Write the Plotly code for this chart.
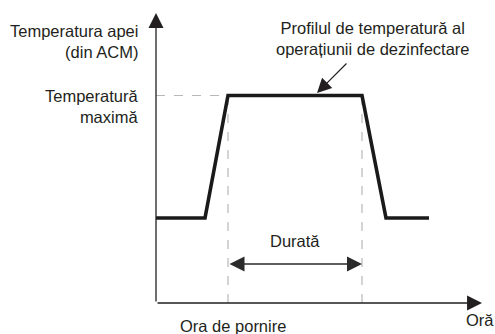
import plotly.graph_objects as go

# Profile of the disinfection operation (time units vs temperature units)
time_pts = [0, 1.96, 2.88, 8.24, 9.2, 10.92]
temp_pts = [3.4, 3.4, 8.3, 8.3, 3.4, 3.4]

x_max = 13.04
y_max = 11.6
start_time = time_pts[2]
end_time = time_pts[3]
max_temp = temp_pts[2]
duration_level = 1.56

lbl_y_axis = "Temperatura apei<br>(din ACM)"
lbl_max = "Temperatură<br>maximă"
lbl_profile = "Profilul de temperatură al<br>operațiunii de dezinfectare"
lbl_duration = "Durată"
lbl_start = "Ora de pornire"
lbl_x_axis = "Oră"

FONT = dict(family="Liberation Sans, Arial, sans-serif", size=16.5, color="#231f20")
DASH = dict(color="#b8b8b8", width=1.2, dash="dash")

fig = go.Figure()
fig.add_trace(go.Scatter(x=time_pts, y=temp_pts, mode="lines",
                         line=dict(color="#1a1a1a", width=3.6),
                         hoverinfo="skip", showlegend=False))

shapes = [
    dict(type="line", xref="x", yref="y", x0=start_time, x1=start_time, y0=0, y1=max_temp, line=DASH, layer="below"),
    dict(type="line", xref="x", yref="y", x0=end_time, x1=end_time, y0=0, y1=max_temp, line=DASH, layer="below"),
    dict(type="line", xref="x", yref="y", x0=0, x1=start_time, y0=max_temp, y1=max_temp, line=DASH, layer="below"),
]

annotations = [
    # axes with arrowheads
    dict(x=x_max, y=0, ax=0, ay=0, xref="x", yref="y", axref="x", ayref="y", text="",
         showarrow=True, arrowhead=2, arrowwidth=1.3, arrowsize=2.3, arrowcolor="#231f20", standoff=0),
    dict(x=0, y=y_max, ax=0, ay=0, xref="x", yref="y", axref="x", ayref="y", text="",
         showarrow=True, arrowhead=2, arrowwidth=1.3, arrowsize=2.3, arrowcolor="#231f20", standoff=0),
    # duration arrow
    dict(x=end_time, y=duration_level, ax=start_time, ay=duration_level, xref="x", yref="y",
         axref="x", ayref="y", text="", showarrow=True, arrowhead=2, startarrowhead=2,
         arrowside="end+start", arrowwidth=1.5, arrowsize=2, startarrowsize=2,
         arrowcolor="#2a2a2a", standoff=0, startstandoff=0),
    dict(x=(start_time + end_time) / 2, y=2.48, xref="x", yref="y", text=lbl_duration,
         showarrow=False, font=FONT),
    # callout arrow
    dict(x=6.44, y=max_temp + 0.1, xref="x", yref="y", ax=31, ay=-31, text="",
         showarrow=True, arrowhead=2, arrowwidth=1.2, arrowsize=2.4, arrowcolor="#231f20", standoff=0),
    dict(x=8.68, y=10.6, xref="x", yref="y", text=lbl_profile, showarrow=False,
         align="center", font=FONT),
    # left labels
    dict(x=-0.049, y=0.903, xref="paper", yref="paper", text=lbl_y_axis, showarrow=False,
         align="right", xanchor="right", yanchor="middle", font=FONT),
    dict(x=-0.049, y=0.679, xref="paper", yref="paper", text=lbl_max, showarrow=False,
         align="right", xanchor="right", yanchor="middle", font=FONT),
    # bottom labels
    dict(x=0.236, y=-0.079, xref="paper", yref="paper", text=lbl_start, showarrow=False,
         xanchor="center", yanchor="middle", font=FONT),
    dict(x=0.994, y=-0.058, xref="paper", yref="paper", text=lbl_x_axis, showarrow=False,
         xanchor="center", yanchor="middle", font=FONT),
]

fig.update_layout(
    width=495, height=334,
    margin=dict(l=156, r=13, t=13, b=31, autoexpand=False),
    paper_bgcolor="white", plot_bgcolor="white",
    xaxis=dict(range=[0, x_max], visible=False, fixedrange=True),
    yaxis=dict(range=[0, y_max], visible=False, fixedrange=True),
    shapes=shapes, annotations=annotations,
    showlegend=False,
)

fig.write_html("out.html", config={"displayModeBar": False},
               post_script="document.body.style.margin='0px';")
